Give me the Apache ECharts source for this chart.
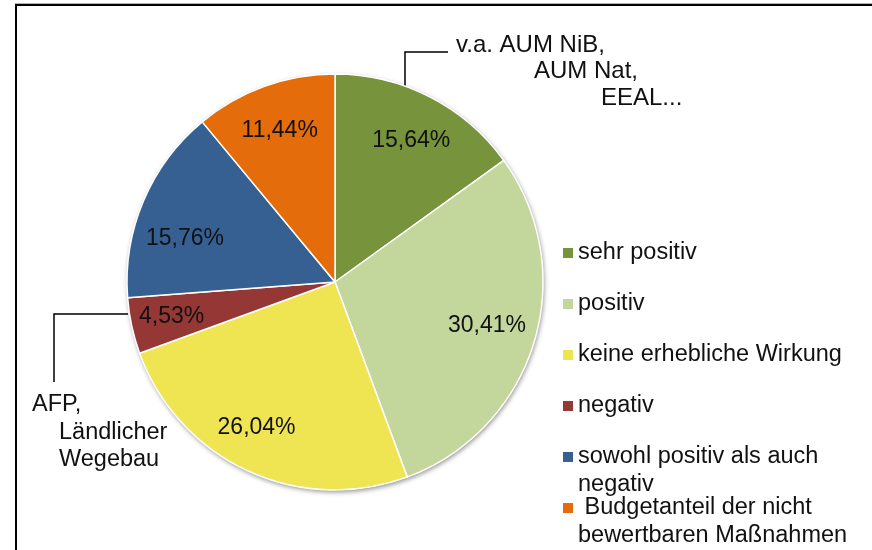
<!DOCTYPE html>
<html>
<head>
<meta charset="utf-8">
<script src="https://cdn.jsdelivr.net/npm/echarts@6/dist/echarts.min.js"></script>
<style>
  html, body { margin: 0; padding: 0; background: #fff; }
  #main { width: 872px; height: 550px; }
</style>
</head>
<body>
<div id="main"></div>
<script>
// Anteile am Budget nach Wirkung
var categories = ['sehr positiv', 'positiv', 'keine erhebliche Wirkung', 'negativ',
  'sowohl positiv als auch negativ', 'Budgetanteil der nicht bewertbaren Maßnahmen'];
var shares = [15.64, 30.41, 26.04, 4.53, 15.76, 11.44];
var colors = ['#77933c', '#c3d69b', '#efe552', '#953735', '#376092', '#e46c0a'];
var legendLabels = ['sehr positiv', 'positiv', 'keine erhebliche Wirkung', 'negativ',
  'sowohl positiv als auch\nnegativ', ' Budgetanteil der nicht\nbewertbaren Maßnahmen'];

var FONT = '"Liberation Sans", Arial, sans-serif';
var center = [335, 282];
var R = 208;

var myChart = echarts.init(document.getElementById('main'));

// kleine Verschiebungen der Beschriftungen wie im Original (Excel "beste Passform")
var labelNudge = [[2, 4], [-4, -4], [-10, -2], [-4, 0], [0, 20], [0, 2]];

var pieData = categories.map(function (name, i) {
    return { name: name, value: shares[i], itemStyle: { color: colors[i] } };
});
var labelData = categories.map(function (name, i) {
    return { name: name, value: shares[i], label: { offset: labelNudge[i] } };
});

function legendFor(idx, top, tall) {
    return {
        orient: 'vertical',
        left: 563,
        top: top,
        padding: 0,
        itemGap: 23,
        itemWidth: 10,
        itemHeight: tall ? 38 : 10,
        icon: tall ? 'path://M0,0H10V10H0ZM0,38L0.01,38L0,38Z' : 'rect',
        selectedMode: false,
        itemStyle: { borderWidth: 0 },
        data: idx.map(function (i) { return categories[i]; }),
        formatter: function (name) {
            return legendLabels[categories.indexOf(name)];
        },
        textStyle: { fontFamily: FONT, fontSize: 23.5, lineHeight: 28, color: '#111' }
    };
}

var option = {
    animation: false,
    backgroundColor: '#fff',
    legend: [
        legendFor([0, 1, 2, 3], 239, false),
        legendFor([4], 443, true),
        legendFor([5], 494, true)
    ],
    graphic: [
        { type: 'line', shape: { x1: 15, y1: 3.5, x2: 872, y2: 3.5 }, style: { stroke: '#b5b5b5', lineWidth: 1 } },
        { type: 'rect', shape: { x: 16, y: 5, width: 900, height: 600 }, style: { fill: null, stroke: '#000', lineWidth: 2 } },
        { type: 'polyline', shape: { points: [[405, 95], [405, 52], [448, 52]] }, style: { stroke: '#000', lineWidth: 1.5, fill: null } },
        { type: 'polyline', shape: { points: [[128, 314], [54, 314], [54, 382]] }, style: { stroke: '#000', lineWidth: 1.5, fill: null } },
        { type: 'text', left: 456, top: 33, style: { text: 'v.a. AUM NiB,', font: '24px ' + FONT, fill: '#111' } },
        { type: 'text', left: 534, top: 59, style: { text: 'AUM Nat,', font: '24px ' + FONT, fill: '#111' } },
        { type: 'text', left: 601, top: 86, style: { text: 'EEAL...', font: '24px ' + FONT, fill: '#111' } },
        { type: 'text', left: 32, top: 393, style: { text: 'AFP,', font: '23.5px ' + FONT, fill: '#111' } },
        { type: 'text', left: 59, top: 421, style: { text: 'Ländlicher', font: '23.5px ' + FONT, fill: '#111' } },
        { type: 'text', left: 59, top: 448, style: { text: 'Wegebau', font: '23.5px ' + FONT, fill: '#111' } }
    ],
    series: [
        {
            // Schatten unter dem Kreis
            type: 'pie',
            silent: true,
            center: center,
            radius: [0, R],
            label: { show: false },
            labelLine: { show: false },
            itemStyle: {
                color: '#fff',
                shadowBlur: 5,
                shadowOffsetX: 1,
                shadowOffsetY: 2,
                shadowColor: 'rgba(0,0,0,0.45)'
            },
            data: [{ name: '', value: 1 }]
        },
        {
            type: 'pie',
            center: center,
            radius: [0, R],
            startAngle: 90,
            clockwise: true,
            label: { show: false },
            labelLine: { show: false },
            emphasis: { scale: false },
            itemStyle: { borderColor: '#fff', borderWidth: 1.5 },
            data: pieData
        },
        {
            // nur Beschriftungen
            type: 'pie',
            silent: true,
            center: center,
            radius: [112, R],
            startAngle: 90,
            clockwise: true,
            itemStyle: { color: 'rgba(0,0,0,0)' },
            label: {
                show: true,
                position: 'inside',
                fontFamily: FONT,
                fontSize: 23,
                color: '#111',
                formatter: function (p) {
                    return p.value.toFixed(2).replace('.', ',') + '%';
                }
            },
            labelLine: { show: false },
            data: labelData
        }
    ]
};

myChart.setOption(option);
</script>
</body>
</html>
